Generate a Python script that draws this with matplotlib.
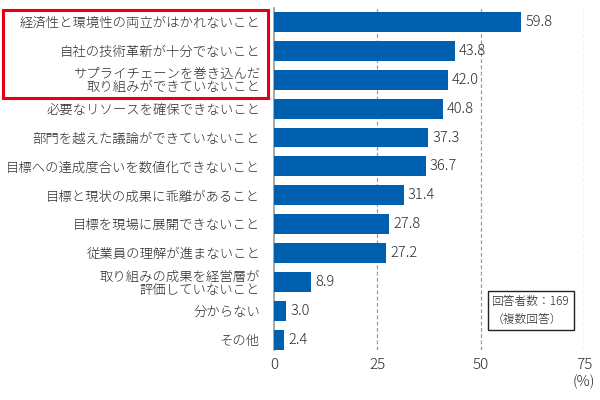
import matplotlib
matplotlib.use("Agg")
import matplotlib.pyplot as plt
from matplotlib.patches import Rectangle

plt.rcParams['font.family'] = ['Noto Sans CJK JP', 'DejaVu Sans']

categories = [
    "経済性と環境性の両立がはかれないこと",
    "自社の技術革新が十分でないこと",
    "サプライチェーンを巻き込んだ\n取り組みができていないこと",
    "必要なリソースを確保できないこと",
    "部門を越えた議論ができていないこと",
    "目標への達成度合いを数値化できないこと",
    "目標と現状の成果に乖離があること",
    "目標を現場に展開できないこと",
    "従業員の理解が進まないこと",
    "取り組みの成果を経営層が\n評価していないこと",
    "分からない",
    "その他",
]
values = [59.8, 43.8, 42.0, 40.8, 37.3, 36.7, 31.4, 27.8, 27.2, 8.9, 3.0, 2.4]
xticks = [0, 25, 50, 75]

text_color = "#2a2a2a"
bar_color = "#0060b0"

fig = plt.figure(figsize=(6, 4), dpi=100)
ax = fig.add_axes([274/600, 1-350/400, (584-274)/600, (350-8)/400])

y = list(range(len(values)))
ax.barh(y, values, height=0.69, color=bar_color, zorder=3)
for yi, v in zip(y, values):
    ax.text(v + 1.0, yi, f"{v:.1f}", va="center", ha="left", fontsize=10.5,
            color=text_color, fontweight="light")

ax.set_xlim(0, 75)
ax.set_ylim(11.35, -0.48)
ax.set_yticks(y)
ax.set_yticklabels(categories, fontsize=9.6, color=text_color, linespacing=1.0,
                   fontweight="light")
ax.set_xticks(xticks)
ax.set_xticklabels([str(t) for t in xticks], fontsize=11, color=text_color,
                   fontweight="light")
ax.tick_params(axis='y', length=0, pad=10)
ax.tick_params(axis='x', length=0, pad=6)
for s in ["top", "right", "bottom"]:
    ax.spines[s].set_visible(False)
ax.spines["left"].set_color("#999999")
ax.spines["left"].set_linewidth(1.2)
for t in xticks[1:]:
    ax.axvline(t, color="#999999", lw=0.9, ls=(0, (3, 2)), zorder=1)

fig.text(584/600, 1-382/400, "(%)", ha="center", va="center", fontsize=10.5,
         color=text_color, fontweight="light")

# red highlight box
fig.patches.append(Rectangle((3/600, 1-98/400), (268-3)/600, (98-10)/400,
                             transform=fig.transFigure, fill=False,
                             edgecolor="#e60012", lw=2.2))

# respondents note
ax.text(0.703, 0.115, "回答者数：169\n（複数回答）", transform=ax.transAxes,
        fontsize=8.5, color=text_color, ha="left", va="center", linespacing=1.5,
        fontweight="light",
        bbox=dict(boxstyle="square,pad=0.35", facecolor="white", edgecolor="#222222", lw=1.0),
        zorder=5)

fig.savefig("out.png", dpi=100)
